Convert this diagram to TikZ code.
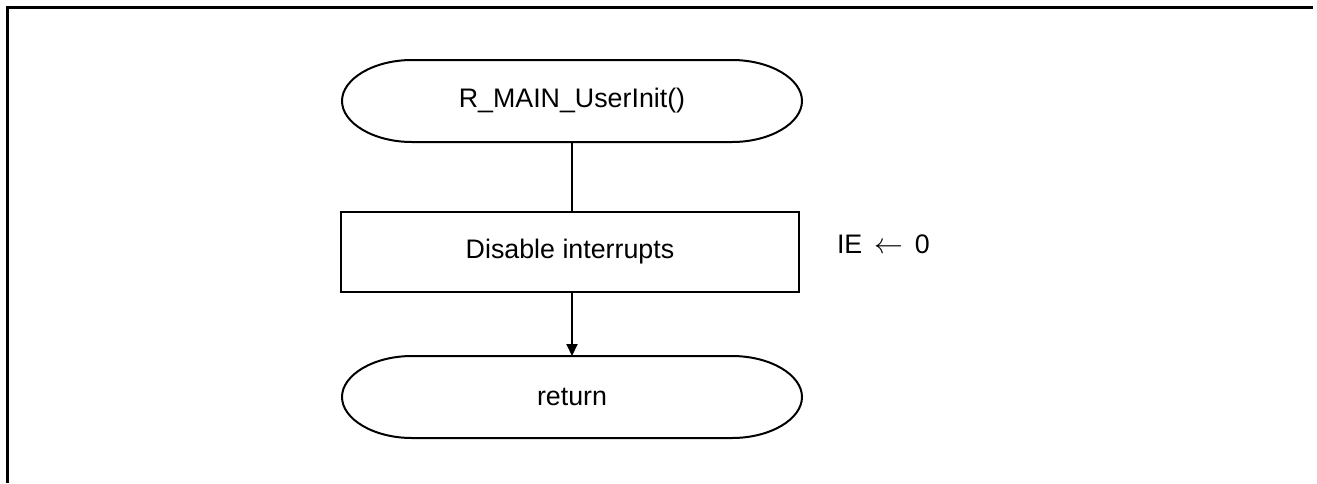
\documentclass[tikz,border=0pt]{standalone}
\usepackage{fontspec}
\setmainfont{Liberation Sans}
\usetikzlibrary{arrows.meta}

\begin{document}
\begin{tikzpicture}[x=0.5pt,y=0.5pt,line width=1pt,font=\fontsize{13.4}{15}\selectfont]
        \useasboundingbox (0,0) rectangle (1317,-483);
        \draw[line width=1.5pt] (7,-483) -- (7,-7) -- (1313,-7);

        \begin{scope}[every node/.style={rectangle,inner sep=0pt,
                        minimum width=229pt, minimum height=40pt}]
            \node (init) at (572,-101) {R\_MAIN\_UserInit()};
            \node[draw] (dis) at (570,-252) {Disable interrupts};
            \node (ret) at (572,-397) {return};
        \end{scope}
        \node[anchor=west,inner sep=0pt] (ie) at (836,-244) {IE\, $\leftarrow$\, 0};

        \foreach \n in {init,ret}
            \draw ([xshift=35pt]\n.north west) -- ([xshift=-35pt]\n.north east)
                to[out=0,in=90,out distance=19.3pt,in distance=11pt] (\n.east)
                to[out=-90,in=0,out distance=11pt,in distance=19.3pt] ([xshift=-35pt]\n.south east)
                -- ([xshift=35pt]\n.south west)
                to[out=180,in=-90,out distance=19.3pt,in distance=11pt] (\n.west)
                to[out=90,in=180,out distance=11pt,in distance=19.3pt] cycle;

        \path (init) edge (init |- dis.north);
        \path (dis.south -| ret) edge[-{Triangle[length=6pt,width=5.5pt]}] (ret);
    \end{tikzpicture}
\end{document}
